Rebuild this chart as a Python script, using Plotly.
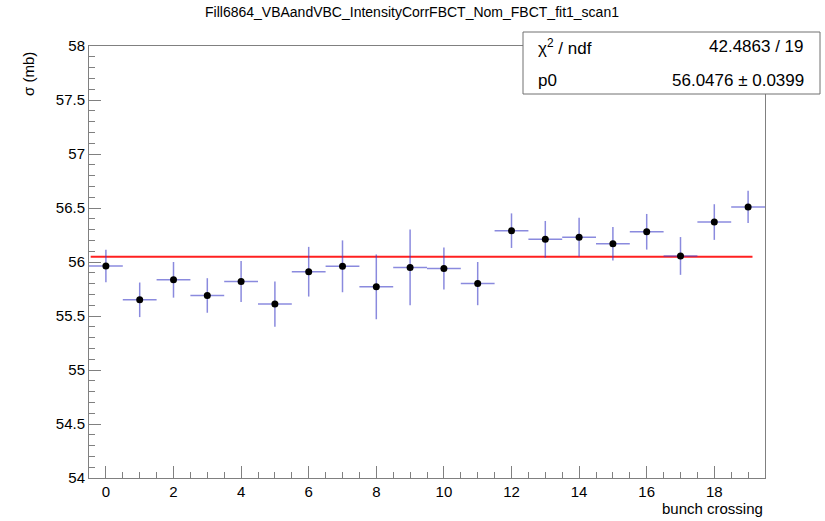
import plotly.graph_objects as go

title = "Fill6864_VBAandVBC_IntensityCorrFBCT_Nom_FBCT_fit1_scan1"
bunch = list(range(20))
sigma = [55.963, 55.65, 55.835, 55.69, 55.82, 55.61, 55.91, 55.96, 55.77, 55.95,
         55.94, 55.80, 56.29, 56.21, 56.23, 56.17, 56.28, 56.056, 56.37, 56.51]
sigma_err = [0.15, 0.16, 0.165, 0.16, 0.19, 0.21, 0.23, 0.24, 0.30, 0.35,
             0.195, 0.20, 0.16, 0.17, 0.18, 0.155, 0.165, 0.175, 0.165, 0.15]
bin_half = [0.5] * 20
fit_p0 = 56.0476
fit_range = [-0.45, 19.13]
stats_labels = ["χ<sup>2</sup> / ndf", "p0"]
stats_values = ["42.4863 / 19", "56.0476 ± 0.0399"]
xticks = list(range(0, 19, 2))
yticks = [54, 54.5, 55, 55.5, 56, 56.5, 57, 57.5, 58]

FONT = "Liberation Sans, Arial, Helvetica, sans-serif"
ebcol = "rgba(60,60,200,0.6)"

fig = go.Figure()
fig.add_trace(go.Scatter(
    x=fit_range, y=[fit_p0, fit_p0], mode="lines",
    line=dict(color="#ff2020", width=2), showlegend=False, hoverinfo="skip"))
fig.add_trace(go.Scatter(
    x=bunch, y=sigma, mode="markers",
    marker=dict(color="black", size=7),
    error_y=dict(type="data", array=sigma_err, color=ebcol, thickness=1.5, width=0),
    error_x=dict(type="data", array=bin_half, color=ebcol, thickness=1.5, width=0),
    showlegend=False))

axcol = "#808080"
fig.update_xaxes(
    range=[-0.5, 19.5], tickvals=xticks, ticktext=[str(v) for v in xticks],
    ticks="inside", ticklen=12, tickcolor=axcol, tickwidth=1,
    minor=dict(dtick=0.5, tick0=0, ticks="inside", ticklen=6, tickcolor=axcol),
    showline=True, linecolor=axcol, linewidth=1, mirror=True,
    showgrid=False, zeroline=False,
    tickfont=dict(family=FONT, size=15, color="black"))
fig.update_yaxes(
    range=[54, 58], tickvals=yticks, ticktext=[f"{v:g}" for v in yticks],
    ticks="inside", ticklen=12, tickcolor=axcol, tickwidth=1,
    minor=dict(dtick=0.1, tick0=54, ticks="inside", ticklen=6, tickcolor=axcol),
    showline=True, linecolor=axcol, linewidth=1, mirror=True,
    showgrid=False, zeroline=False,
    tickfont=dict(family=FONT, size=15, color="black"))

L, R, T, B = 89, 60, 46, 43
W, H = 825, 521
pw, ph = W - L - R, H - T - B

def px(xp):
    return (xp - L) / pw

def py(yp):
    return (H - B - yp) / ph

annotations = [
    dict(text=title, xref="paper", yref="paper", x=px(412), y=py(12),
         xanchor="center", yanchor="middle", showarrow=False,
         font=dict(family=FONT, size=14, color="black")),
    dict(text="σ (mb)", xref="paper", yref="paper", x=px(28), y=py(50),
         xanchor="center", yanchor="top", textangle=-90, showarrow=False,
         font=dict(family=FONT, size=15, color="black")),
    dict(text="bunch crossing", xref="paper", yref="paper", x=1.0, y=py(508),
         xanchor="right", yanchor="middle", showarrow=False,
         font=dict(family=FONT, size=15, color="black")),
]
row_y = [47, 80]
for lab, val, yy in zip(stats_labels, stats_values, row_y):
    annotations.append(dict(text=lab, xref="paper", yref="paper", x=px(536), y=py(yy),
                            xanchor="left", yanchor="middle", showarrow=False,
                            font=dict(family=FONT, size=17, color="black")))
    annotations.append(dict(text=val, xref="paper", yref="paper", x=px(806), y=py(yy),
                            xanchor="right", yanchor="middle", showarrow=False,
                            font=dict(family=FONT, size=17, color="black")))

fig.update_layout(
    width=W, height=H, margin=dict(l=L, r=R, t=T, b=B),
    paper_bgcolor="white", plot_bgcolor="white",
    annotations=annotations,
    shapes=[dict(type="rect", xref="paper", yref="paper",
                 x0=px(523), x1=px(820), y0=py(94), y1=py(32),
                 line=dict(color="#707070", width=1), fillcolor="white", layer="above")],
)
fig.write_html("out.html")
